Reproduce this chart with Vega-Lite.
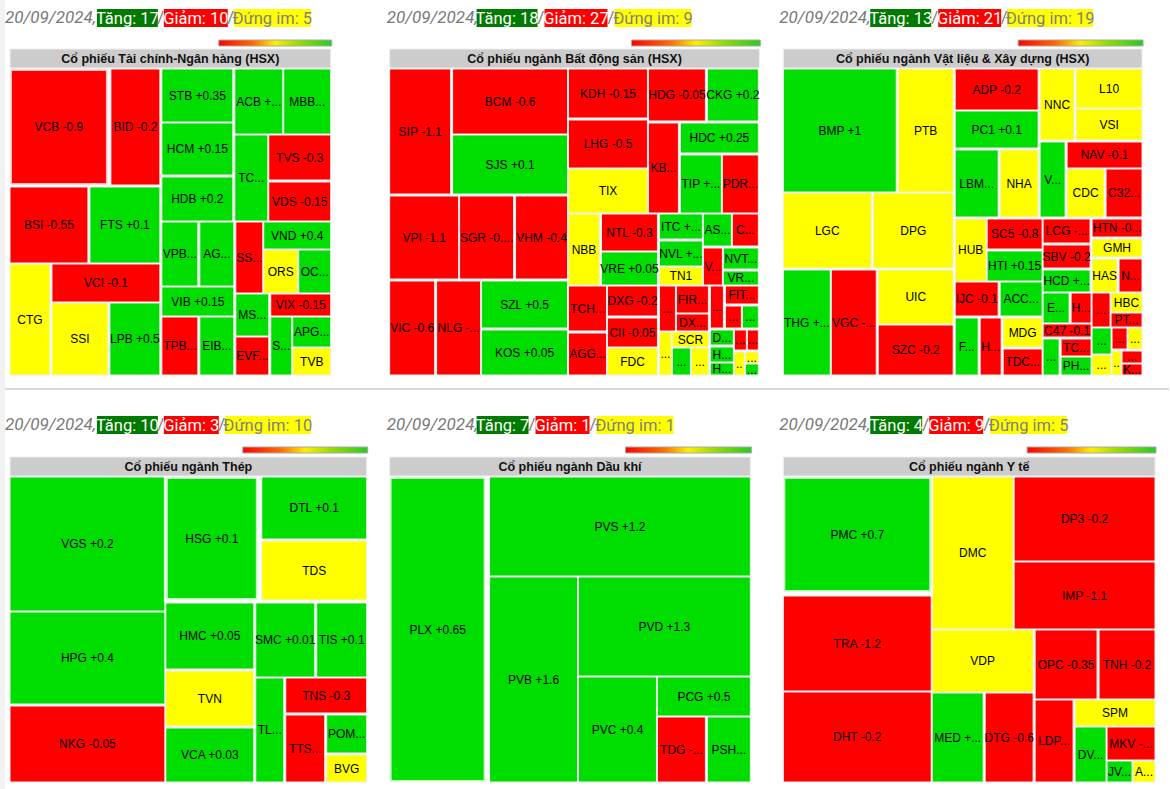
{
  "$schema": "https://vega.github.io/schema/vega-lite/v6.json",
  "width": 1170,
  "height": 789,
  "padding": 0,
  "autosize": {"type": "fit", "contains": "padding"},
  "background": "#ffffff",
  "config": {"view": {"stroke": null}},
  "datasets": {
    "tiles": [
      {"p":1,"t":"VCB -0.9","c":"d","x0":10,"x1":108,"y0":69,"y1":185,"hl":1},
      {"p":1,"t":"BID -0.2","c":"d","x0":111,"x1":160,"y0":69,"y1":185,"hl":0},
      {"p":1,"t":"STB +0.35","c":"u","x0":162,"x1":233,"y0":69,"y1":122,"hl":0},
      {"p":1,"t":"HCM +0.15","c":"u","x0":162,"x1":233,"y0":123,"y1":175,"hl":0},
      {"p":1,"t":"HDB +0.2","c":"u","x0":162,"x1":233,"y0":177,"y1":221,"hl":0},
      {"p":1,"t":"ACB +...","c":"u","x0":235,"x1":283,"y0":69,"y1":134,"hl":0},
      {"p":1,"t":"MBB...","c":"u","x0":284,"x1":331,"y0":69,"y1":134,"hl":0},
      {"p":1,"t":"TC...","c":"u","x0":235,"x1":268,"y0":135,"y1":221,"hl":0},
      {"p":1,"t":"TVS -0.3","c":"d","x0":269,"x1":331,"y0":135,"y1":180,"hl":0},
      {"p":1,"t":"VDS -0.15","c":"d","x0":269,"x1":331,"y0":182,"y1":221,"hl":0},
      {"p":1,"t":"BSI -0.55","c":"d","x0":10,"x1":88,"y0":187,"y1":263,"hl":0},
      {"p":1,"t":"FTS +0.1","c":"u","x0":90,"x1":160,"y0":187,"y1":263,"hl":0},
      {"p":1,"t":"CTG","c":"f","x0":10,"x1":50,"y0":264,"y1":375,"hl":0},
      {"p":1,"t":"VCI -0.1","c":"d","x0":52,"x1":160,"y0":264,"y1":302,"hl":0},
      {"p":1,"t":"SSI","c":"f","x0":52,"x1":108,"y0":303,"y1":375,"hl":0},
      {"p":1,"t":"LPB +0.5","c":"u","x0":110,"x1":160,"y0":303,"y1":375,"hl":0},
      {"p":1,"t":"VPB...","c":"u","x0":162,"x1":198,"y0":222,"y1":286,"hl":0},
      {"p":1,"t":"AG...","c":"u","x0":200,"x1":234,"y0":222,"y1":286,"hl":0},
      {"p":1,"t":"VIB +0.15","c":"u","x0":162,"x1":234,"y0":287,"y1":316,"hl":0},
      {"p":1,"t":"TPB...","c":"d","x0":162,"x1":198,"y0":317,"y1":375,"hl":0},
      {"p":1,"t":"EIB...","c":"u","x0":200,"x1":234,"y0":317,"y1":375,"hl":0},
      {"p":1,"t":"SS...","c":"d","x0":236,"x1":263,"y0":222,"y1":293,"hl":0},
      {"p":1,"t":"VND +0.4","c":"u","x0":264,"x1":331,"y0":222,"y1":249,"hl":0},
      {"p":1,"t":"ORS","c":"f","x0":264,"x1":298,"y0":250,"y1":293,"hl":0},
      {"p":1,"t":"OC...","c":"u","x0":299,"x1":331,"y0":250,"y1":293,"hl":0},
      {"p":1,"t":"MS...","c":"u","x0":236,"x1":269,"y0":294,"y1":336,"hl":0},
      {"p":1,"t":"EVF...","c":"d","x0":236,"x1":269,"y0":337,"y1":375,"hl":0},
      {"p":1,"t":"VIX -0.15","c":"d","x0":271,"x1":331,"y0":294,"y1":316,"hl":0},
      {"p":1,"t":"S...","c":"u","x0":271,"x1":292,"y0":317,"y1":375,"hl":0},
      {"p":1,"t":"APG...","c":"u","x0":293,"x1":331,"y0":317,"y1":347,"hl":0},
      {"p":1,"t":"TVB","c":"f","x0":293,"x1":331,"y0":348,"y1":375,"hl":0},

      {"p":2,"t":"SIP -1.1","c":"d","x0":390,"x1":451,"y0":69,"y1":194,"hl":0},
      {"p":2,"t":"BCM -0.6","c":"d","x0":453,"x1":568,"y0":69,"y1":134,"hl":0},
      {"p":2,"t":"SJS +0.1","c":"u","x0":453,"x1":568,"y0":135,"y1":194,"hl":0},
      {"p":2,"t":"KDH -0.15","c":"d","x0":569,"x1":648,"y0":69,"y1":118,"hl":0},
      {"p":2,"t":"LHG -0.5","c":"d","x0":569,"x1":648,"y0":120,"y1":168,"hl":0},
      {"p":2,"t":"TIX","c":"f","x0":569,"x1":648,"y0":169,"y1":213,"hl":0},
      {"p":2,"t":"HDG -0.05","c":"d","x0":649,"x1":706,"y0":69,"y1":121,"hl":0},
      {"p":2,"t":"CKG +0.2","c":"u","x0":708,"x1":759,"y0":69,"y1":121,"hl":0},
      {"p":2,"t":"KB...","c":"d","x0":649,"x1":679,"y0":123,"y1":213,"hl":0},
      {"p":2,"t":"HDC +0.25","c":"u","x0":681,"x1":759,"y0":123,"y1":153,"hl":0},
      {"p":2,"t":"TIP +...","c":"u","x0":681,"x1":722,"y0":155,"y1":213,"hl":0},
      {"p":2,"t":"PDR...","c":"d","x0":723,"x1":759,"y0":155,"y1":213,"hl":0},
      {"p":2,"t":"VPI -1.1","c":"d","x0":390,"x1":459,"y0":196,"y1":279,"hl":0},
      {"p":2,"t":"SGR -0....","c":"d","x0":460,"x1":514,"y0":196,"y1":279,"hl":0},
      {"p":2,"t":"VHM -0.4","c":"d","x0":516,"x1":568,"y0":196,"y1":279,"hl":0},
      {"p":2,"t":"VIC -0.6","c":"d","x0":390,"x1":435,"y0":281,"y1":375,"hl":0},
      {"p":2,"t":"NLG -...","c":"d","x0":437,"x1":481,"y0":281,"y1":375,"hl":0},
      {"p":2,"t":"SZL +0.5","c":"u","x0":482,"x1":568,"y0":281,"y1":328,"hl":0},
      {"p":2,"t":"KOS +0.05","c":"u","x0":482,"x1":568,"y0":330,"y1":375,"hl":0},
      {"p":2,"t":"NBB","c":"f","x0":569,"x1":600,"y0":214,"y1":285,"hl":0},
      {"p":2,"t":"NTL -0.3","c":"d","x0":602,"x1":658,"y0":214,"y1":251,"hl":0},
      {"p":2,"t":"VRE +0.05","c":"u","x0":602,"x1":658,"y0":252,"y1":285,"hl":0},
      {"p":2,"t":"ITC +...","c":"u","x0":660,"x1":703,"y0":214,"y1":239,"hl":0},
      {"p":2,"t":"NVL +...","c":"u","x0":660,"x1":703,"y0":241,"y1":266,"hl":0},
      {"p":2,"t":"TN1","c":"f","x0":660,"x1":703,"y0":267,"y1":285,"hl":0},
      {"p":2,"t":"AS...","c":"u","x0":704,"x1":732,"y0":214,"y1":246,"hl":0},
      {"p":2,"t":"C...","c":"d","x0":733,"x1":759,"y0":214,"y1":246,"hl":0},
      {"p":2,"t":"V...","c":"d","x0":704,"x1":723,"y0":248,"y1":285,"hl":0},
      {"p":2,"t":"NVT...","c":"u","x0":724,"x1":759,"y0":248,"y1":269,"hl":0},
      {"p":2,"t":"VR...","c":"u","x0":724,"x1":759,"y0":271,"y1":285,"hl":0},
      {"p":2,"t":"TCH...","c":"d","x0":569,"x1":607,"y0":286,"y1":331,"hl":0},
      {"p":2,"t":"AGG...","c":"d","x0":569,"x1":607,"y0":333,"y1":375,"hl":0},
      {"p":2,"t":"DXG -0.2","c":"d","x0":608,"x1":658,"y0":286,"y1":316,"hl":0},
      {"p":2,"t":"CII -0.05","c":"d","x0":608,"x1":658,"y0":318,"y1":347,"hl":0},
      {"p":2,"t":"FDC","c":"f","x0":608,"x1":658,"y0":348,"y1":375,"hl":0},
      {"p":2,"t":"...","c":"d","x0":660,"x1":676,"y0":286,"y1":331,"hl":0},
      {"p":2,"t":"FIR...","c":"d","x0":677,"x1":709,"y0":286,"y1":313,"hl":0},
      {"p":2,"t":"DX...","c":"d","x0":677,"x1":709,"y0":314,"y1":331,"hl":0},
      {"p":2,"t":"...","c":"d","x0":711,"x1":724,"y0":286,"y1":328,"hl":0},
      {"p":2,"t":"FIT...","c":"d","x0":726,"x1":759,"y0":286,"y1":304,"hl":0},
      {"p":2,"t":"...","c":"d","x0":726,"x1":742,"y0":306,"y1":328,"hl":0},
      {"p":2,"t":"...","c":"u","x0":743,"x1":759,"y0":306,"y1":328,"hl":0},
      {"p":2,"t":"...","c":"f","x0":660,"x1":672,"y0":332,"y1":375,"hl":0},
      {"p":2,"t":"SCR","c":"f","x0":673,"x1":709,"y0":332,"y1":347,"hl":0},
      {"p":2,"t":"...","c":"u","x0":673,"x1":691,"y0":348,"y1":375,"hl":0},
      {"p":2,"t":"...","c":"f","x0":692,"x1":709,"y0":348,"y1":375,"hl":0},
      {"p":2,"t":"D...","c":"u","x0":711,"x1":734,"y0":330,"y1":345,"hl":0},
      {"p":2,"t":"H...","c":"u","x0":711,"x1":734,"y0":347,"y1":362,"hl":0},
      {"p":2,"t":"H...","c":"u","x0":711,"x1":734,"y0":363,"y1":375,"hl":0},
      {"p":2,"t":"...","c":"d","x0":735,"x1":747,"y0":330,"y1":350,"hl":0},
      {"p":2,"t":"...","c":"d","x0":748,"x1":759,"y0":330,"y1":350,"hl":0},
      {"p":2,"t":"..","c":"f","x0":735,"x1":745,"y0":352,"y1":375,"hl":0},
      {"p":2,"t":"...","c":"f","x0":746,"x1":759,"y0":352,"y1":363,"hl":0},
      {"p":2,"t":"...","c":"u","x0":746,"x1":759,"y0":364,"y1":375,"hl":0},

      {"p":3,"t":"BMP +1","c":"u","x0":784,"x1":897,"y0":69,"y1":192,"hl":0},
      {"p":3,"t":"PTB","c":"f","x0":899,"x1":954,"y0":69,"y1":192,"hl":0},
      {"p":3,"t":"ADP -0.2","c":"d","x0":956,"x1":1039,"y0":69,"y1":110,"hl":0},
      {"p":3,"t":"PC1 +0.1","c":"u","x0":956,"x1":1039,"y0":111,"y1":148,"hl":0},
      {"p":3,"t":"LBM...","c":"u","x0":956,"x1":999,"y0":150,"y1":217,"hl":0},
      {"p":3,"t":"NHA","c":"f","x0":1001,"x1":1039,"y0":150,"y1":217,"hl":0},
      {"p":3,"t":"NNC","c":"f","x0":1041,"x1":1075,"y0":69,"y1":140,"hl":0},
      {"p":3,"t":"L10","c":"f","x0":1077,"x1":1143,"y0":69,"y1":108,"hl":0},
      {"p":3,"t":"VSI","c":"f","x0":1077,"x1":1143,"y0":109,"y1":140,"hl":0},
      {"p":3,"t":"V...","c":"u","x0":1041,"x1":1066,"y0":142,"y1":217,"hl":0},
      {"p":3,"t":"NAV -0.1","c":"d","x0":1068,"x1":1143,"y0":142,"y1":168,"hl":0},
      {"p":3,"t":"CDC","c":"f","x0":1068,"x1":1105,"y0":169,"y1":217,"hl":0},
      {"p":3,"t":"C32...","c":"d","x0":1107,"x1":1143,"y0":169,"y1":217,"hl":0},
      {"p":3,"t":"LGC","c":"f","x0":784,"x1":872,"y0":193,"y1":268,"hl":0},
      {"p":3,"t":"DPG","c":"f","x0":874,"x1":954,"y0":193,"y1":268,"hl":0},
      {"p":3,"t":"THG +...","c":"u","x0":784,"x1":831,"y0":270,"y1":375,"hl":0},
      {"p":3,"t":"VGC -...","c":"d","x0":832,"x1":877,"y0":270,"y1":375,"hl":0},
      {"p":3,"t":"UIC","c":"f","x0":879,"x1":954,"y0":270,"y1":324,"hl":0},
      {"p":3,"t":"SZC -0.2","c":"d","x0":879,"x1":954,"y0":325,"y1":375,"hl":0},
      {"p":3,"t":"HUB","c":"f","x0":956,"x1":987,"y0":219,"y1":281,"hl":0},
      {"p":3,"t":"SC5 -0.8","c":"d","x0":988,"x1":1043,"y0":219,"y1":249,"hl":0},
      {"p":3,"t":"HTI +0.15","c":"u","x0":988,"x1":1043,"y0":251,"y1":281,"hl":0},
      {"p":3,"t":"LCG -...","c":"d","x0":1044,"x1":1091,"y0":219,"y1":243,"hl":0},
      {"p":3,"t":"SBV -0.2","c":"d","x0":1044,"x1":1091,"y0":245,"y1":268,"hl":0},
      {"p":3,"t":"HCD +...","c":"u","x0":1044,"x1":1091,"y0":270,"y1":292,"hl":0},
      {"p":3,"t":"HTN -0...","c":"d","x0":1093,"x1":1143,"y0":219,"y1":237,"hl":0},
      {"p":3,"t":"GMH","c":"f","x0":1093,"x1":1143,"y0":239,"y1":257,"hl":0},
      {"p":3,"t":"HAS","c":"f","x0":1093,"x1":1118,"y0":259,"y1":292,"hl":0},
      {"p":3,"t":"N...","c":"d","x0":1120,"x1":1143,"y0":259,"y1":292,"hl":0},
      {"p":3,"t":"IJC -0.1","c":"d","x0":956,"x1":999,"y0":282,"y1":316,"hl":0},
      {"p":3,"t":"ACC...","c":"u","x0":1001,"x1":1043,"y0":282,"y1":316,"hl":0},
      {"p":3,"t":"F...","c":"u","x0":956,"x1":979,"y0":318,"y1":375,"hl":0},
      {"p":3,"t":"H...","c":"d","x0":981,"x1":1002,"y0":318,"y1":375,"hl":0},
      {"p":3,"t":"MDG","c":"f","x0":1004,"x1":1043,"y0":318,"y1":347,"hl":0},
      {"p":3,"t":"TDC...","c":"d","x0":1004,"x1":1043,"y0":349,"y1":375,"hl":0},
      {"p":3,"t":"E...","c":"u","x0":1044,"x1":1070,"y0":293,"y1":323,"hl":0},
      {"p":3,"t":"H...","c":"d","x0":1072,"x1":1092,"y0":293,"y1":323,"hl":0},
      {"p":3,"t":"C47 -0.1","c":"d","x0":1044,"x1":1092,"y0":324,"y1":337,"hl":0},
      {"p":3,"t":"...","c":"u","x0":1044,"x1":1060,"y0":339,"y1":375,"hl":0},
      {"p":3,"t":"TC...","c":"d","x0":1062,"x1":1092,"y0":339,"y1":356,"hl":0},
      {"p":3,"t":"PH...","c":"u","x0":1062,"x1":1092,"y0":357,"y1":375,"hl":0},
      {"p":3,"t":"...","c":"d","x0":1093,"x1":1111,"y0":293,"y1":327,"hl":0},
      {"p":3,"t":"HBC","c":"f","x0":1112,"x1":1143,"y0":293,"y1":312,"hl":0},
      {"p":3,"t":"PT...","c":"d","x0":1112,"x1":1143,"y0":313,"y1":327,"hl":0},
      {"p":3,"t":"...","c":"u","x0":1093,"x1":1112,"y0":328,"y1":354,"hl":0},
      {"p":3,"t":"...","c":"d","x0":1113,"x1":1128,"y0":328,"y1":349,"hl":0},
      {"p":3,"t":"...","c":"f","x0":1129,"x1":1143,"y0":328,"y1":349,"hl":0},
      {"p":3,"t":"...","c":"f","x0":1093,"x1":1112,"y0":355,"y1":375,"hl":0},
      {"p":3,"t":"..","c":"f","x0":1113,"x1":1122,"y0":351,"y1":375,"hl":0},
      {"p":3,"t":"...","c":"d","x0":1123,"x1":1143,"y0":351,"y1":363,"hl":0},
      {"p":3,"t":"K...","c":"d","x0":1123,"x1":1143,"y0":364,"y1":375,"hl":0},

      {"p":4,"t":"VGS +0.2","c":"u","x0":10,"x1":165,"y0":477,"y1":611,"hl":0},
      {"p":4,"t":"HPG +0.4","c":"u","x0":10,"x1":165,"y0":612,"y1":704,"hl":0},
      {"p":4,"t":"NKG -0.05","c":"d","x0":10,"x1":165,"y0":706,"y1":782,"hl":0},
      {"p":4,"t":"HSG +0.1","c":"u","x0":166,"x1":258,"y0":477,"y1":600,"hl":1},
      {"p":4,"t":"DTL +0.1","c":"u","x0":262,"x1":367,"y0":477,"y1":539,"hl":0},
      {"p":4,"t":"TDS","c":"f","x0":262,"x1":367,"y0":541,"y1":600,"hl":0},
      {"p":4,"t":"HMC +0.05","c":"u","x0":166,"x1":254,"y0":603,"y1":669,"hl":0},
      {"p":4,"t":"SMC +0.01","c":"u","x0":256,"x1":315,"y0":603,"y1":677,"hl":0},
      {"p":4,"t":"TIS +0.1","c":"u","x0":317,"x1":367,"y0":603,"y1":677,"hl":0},
      {"p":4,"t":"TVN","c":"f","x0":166,"x1":254,"y0":671,"y1":726,"hl":0},
      {"p":4,"t":"VCA +0.03","c":"u","x0":166,"x1":254,"y0":728,"y1":782,"hl":0},
      {"p":4,"t":"TL...","c":"u","x0":256,"x1":284,"y0":678,"y1":782,"hl":0},
      {"p":4,"t":"TNS -0.3","c":"d","x0":286,"x1":367,"y0":678,"y1":713,"hl":0},
      {"p":4,"t":"TTS...","c":"d","x0":286,"x1":325,"y0":715,"y1":782,"hl":0},
      {"p":4,"t":"POM...","c":"u","x0":327,"x1":367,"y0":715,"y1":753,"hl":0},
      {"p":4,"t":"BVG","c":"f","x0":327,"x1":367,"y0":755,"y1":782,"hl":0},

      {"p":5,"t":"PLX +0.65","c":"u","x0":390,"x1":486,"y0":477,"y1":782,"hl":1},
      {"p":5,"t":"PVS +1.2","c":"u","x0":490,"x1":751,"y0":477,"y1":576,"hl":0},
      {"p":5,"t":"PVB +1.6","c":"u","x0":490,"x1":578,"y0":577,"y1":782,"hl":0},
      {"p":5,"t":"PVD +1.3","c":"u","x0":579,"x1":751,"y0":577,"y1":676,"hl":0},
      {"p":5,"t":"PVC +0.4","c":"u","x0":579,"x1":657,"y0":677,"y1":782,"hl":0},
      {"p":5,"t":"PCG +0.5","c":"u","x0":658,"x1":751,"y0":677,"y1":716,"hl":0},
      {"p":5,"t":"TDG -...","c":"d","x0":658,"x1":706,"y0":717,"y1":782,"hl":0},
      {"p":5,"t":"PSH...","c":"u","x0":708,"x1":751,"y0":717,"y1":782,"hl":0},

      {"p":6,"t":"PMC +0.7","c":"u","x0":784,"x1":932,"y0":477,"y1":592,"hl":1},
      {"p":6,"t":"TRA -1.2","c":"d","x0":784,"x1":932,"y0":596,"y1":691,"hl":0},
      {"p":6,"t":"DHT -0.2","c":"d","x0":784,"x1":932,"y0":692,"y1":782,"hl":0},
      {"p":6,"t":"DMC","c":"f","x0":933,"x1":1014,"y0":477,"y1":629,"hl":0},
      {"p":6,"t":"DP3 -0.2","c":"d","x0":1015,"x1":1156,"y0":477,"y1":561,"hl":0},
      {"p":6,"t":"IMP -1.1","c":"d","x0":1015,"x1":1156,"y0":562,"y1":629,"hl":0},
      {"p":6,"t":"VDP","c":"f","x0":933,"x1":1034,"y0":630,"y1":692,"hl":0},
      {"p":6,"t":"OPC -0.35","c":"d","x0":1036,"x1":1098,"y0":630,"y1":699,"hl":0},
      {"p":6,"t":"TNH -0.2","c":"d","x0":1100,"x1":1156,"y0":630,"y1":699,"hl":0},
      {"p":6,"t":"MED +...","c":"u","x0":933,"x1":984,"y0":693,"y1":782,"hl":0},
      {"p":6,"t":"DTG -0.6","c":"d","x0":986,"x1":1034,"y0":693,"y1":782,"hl":0},
      {"p":6,"t":"LDP...","c":"d","x0":1036,"x1":1074,"y0":700,"y1":782,"hl":0},
      {"p":6,"t":"SPM","c":"f","x0":1076,"x1":1156,"y0":700,"y1":726,"hl":0},
      {"p":6,"t":"DV...","c":"u","x0":1076,"x1":1107,"y0":727,"y1":782,"hl":0},
      {"p":6,"t":"MKV -...","c":"d","x0":1108,"x1":1156,"y0":727,"y1":760,"hl":0},
      {"p":6,"t":"JV...","c":"u","x0":1108,"x1":1133,"y0":761,"y1":782,"hl":0},
      {"p":6,"t":"A...","c":"f","x0":1134,"x1":1156,"y0":761,"y1":782,"hl":0}
    ],
    "bars": [
      {"p":1,"t":"Cổ phiếu Tài chính-Ngân hàng (HSX)","x0":10,"x1":331,"y0":49,"y1":68},
      {"p":2,"t":"Cổ phiếu ngành Bất động sản (HSX)","x0":390,"x1":760,"y0":49,"y1":68},
      {"p":3,"t":"Cổ phiếu ngành Vật liệu & Xây dựng (HSX)","x0":784,"x1":1143,"y0":49,"y1":68},
      {"p":4,"t":"Cổ phiếu ngành Thép","x0":10,"x1":367,"y0":457,"y1":476},
      {"p":5,"t":"Cổ phiếu ngành Dầu khí","x0":390,"x1":751,"y0":457,"y1":476},
      {"p":6,"t":"Cổ phiếu ngành Y tế","x0":784,"x1":1156,"y0":457,"y1":476}
    ],
    "legends": [
      {"p":1,"x0":219,"x1":332,"y0":40,"y1":46},
      {"p":2,"x0":632,"x1":761,"y0":40,"y1":46},
      {"p":3,"x0":1019,"x1":1144,"y0":40,"y1":46},
      {"p":4,"x0":243,"x1":368,"y0":447,"y1":453},
      {"p":5,"x0":626,"x1":752,"y0":447,"y1":453},
      {"p":6,"x0":1028,"x1":1157,"y0":447,"y1":453}
    ],
    "badges": [
      {"p":1,"t":"Tăng: 17","k":"g","x0":97,"x1":158,"y0":9,"y1":27},
      {"p":1,"t":"Giảm: 10","k":"d","x0":164,"x1":228,"y0":9,"y1":27},
      {"p":1,"t":"Đứng im: 5","k":"f","x0":234,"x1":311,"y0":9,"y1":27},
      {"p":2,"t":"Tăng: 18","k":"g","x0":477,"x1":538,"y0":9,"y1":27},
      {"p":2,"t":"Giảm: 27","k":"d","x0":545,"x1":608,"y0":9,"y1":27},
      {"p":2,"t":"Đứng im: 9","k":"f","x0":615,"x1":692,"y0":9,"y1":27},
      {"p":3,"t":"Tăng: 13","k":"g","x0":871,"x1":932,"y0":9,"y1":27},
      {"p":3,"t":"Giảm: 21","k":"d","x0":939,"x1":1002,"y0":9,"y1":27},
      {"p":3,"t":"Đứng im: 19","k":"f","x0":1008,"x1":1094,"y0":9,"y1":27},
      {"p":4,"t":"Tăng: 10","k":"g","x0":97,"x1":158,"y0":416,"y1":434},
      {"p":4,"t":"Giảm: 3","k":"d","x0":164,"x1":219,"y0":416,"y1":434},
      {"p":4,"t":"Đứng im: 10","k":"f","x0":225,"x1":311,"y0":416,"y1":434},
      {"p":5,"t":"Tăng: 7","k":"g","x0":477,"x1":529,"y0":416,"y1":434},
      {"p":5,"t":"Giảm: 1","k":"d","x0":536,"x1":590,"y0":416,"y1":434},
      {"p":5,"t":"Đứng im: 1","k":"f","x0":597,"x1":674,"y0":416,"y1":434},
      {"p":6,"t":"Tăng: 4","k":"g","x0":871,"x1":923,"y0":416,"y1":434},
      {"p":6,"t":"Giảm: 9","k":"d","x0":930,"x1":984,"y0":416,"y1":434},
      {"p":6,"t":"Đứng im: 5","k":"f","x0":991,"x1":1068,"y0":416,"y1":434}
    ],
    "dates": [
      {"p":1,"t":"20/09/2024,","x":5,"y":18},
      {"p":2,"t":"20/09/2024,","x":387,"y":18},
      {"p":3,"t":"20/09/2024,","x":780,"y":18},
      {"p":4,"t":"20/09/2024,","x":5,"y":425},
      {"p":5,"t":"20/09/2024,","x":387,"y":425},
      {"p":6,"t":"20/09/2024,","x":780,"y":425}
    ],
    "slashes": [
      {"x":161,"y":18},{"x":231,"y":18},
      {"x":541.5,"y":18},{"x":611.5,"y":18},
      {"x":935.5,"y":18},{"x":1005,"y":18},
      {"x":161,"y":425},{"x":222,"y":425},
      {"x":532.5,"y":425},{"x":593.5,"y":425},
      {"x":926.5,"y":425},{"x":987.5,"y":425}
    ],
    "frame": [
      {"x0":0,"x1":5,"y0":0,"y1":789}
    ],
    "divider": [
      {"x0":5,"x1":1170,"y":389}
    ]
  },
  "layer": [
    {
      "data": {"name": "frame"},
      "mark": {"type": "rect", "fill": "#f2f2f2"},
      "encoding": {
        "x": {"field": "x0", "type": "quantitative", "scale": {"domain": [0, 1170], "nice": false, "zero": false}, "axis": null},
        "x2": {"field": "x1"},
        "y": {"field": "y0", "type": "quantitative", "scale": {"domain": [0, 789], "reverse": true, "nice": false, "zero": false}, "axis": null},
        "y2": {"field": "y1"}
      }
    },
    {
      "data": {"name": "divider"},
      "mark": {"type": "rule", "stroke": "#cccccc", "strokeWidth": 1.5},
      "encoding": {
        "x": {"field": "x0", "type": "quantitative", "scale": {"domain": [0, 1170], "nice": false, "zero": false}, "axis": null},
        "x2": {"field": "x1"},
        "y": {"field": "y", "type": "quantitative", "scale": {"domain": [0, 789], "reverse": true, "nice": false, "zero": false}, "axis": null}
      }
    },
    {
      "data": {"name": "tiles"},
      "mark": {"type": "rect", "stroke": "#eeeeee", "strokeWidth": 1},
      "encoding": {
        "x": {"field": "x0", "type": "quantitative", "scale": {"domain": [0, 1170], "nice": false, "zero": false}, "axis": null},
        "x2": {"field": "x1"},
        "y": {"field": "y0", "type": "quantitative", "scale": {"domain": [0, 789], "reverse": true, "nice": false, "zero": false}, "axis": null},
        "y2": {"field": "y1"},
        "color": {"field": "c", "type": "nominal", "scale": {"domain": ["u", "d", "f", "g"], "range": ["#00dd00", "#ff0000", "#ffff00", "#007a00"]}, "legend": null}
      }
    },
    {
      "data": {"name": "tiles"},
      "transform": [{"filter": "datum.hl == 1"}],
      "mark": {"type": "rect", "fillOpacity": 0, "stroke": "#ffffff", "strokeWidth": 4, "strokeOpacity": 0.75},
      "encoding": {
        "x": {"field": "x0", "type": "quantitative", "scale": {"domain": [0, 1170], "nice": false, "zero": false}, "axis": null},
        "x2": {"field": "x1"},
        "y": {"field": "y0", "type": "quantitative", "scale": {"domain": [0, 789], "reverse": true, "nice": false, "zero": false}, "axis": null},
        "y2": {"field": "y1"}
      }
    },
    {
      "data": {"name": "tiles"},
      "transform": [
        {"calculate": "(datum.x0 + datum.x1) / 2", "as": "cx"},
        {"calculate": "(datum.y0 + datum.y1) / 2", "as": "cy"}
      ],
      "mark": {"type": "text", "font": "Liberation Sans", "fontSize": 12, "color": "#000000", "align": "center", "baseline": "middle"},
      "encoding": {
        "x": {"field": "cx", "type": "quantitative", "scale": {"domain": [0, 1170], "nice": false, "zero": false}, "axis": null},
        "y": {"field": "cy", "type": "quantitative", "scale": {"domain": [0, 789], "reverse": true, "nice": false, "zero": false}, "axis": null},
        "text": {"field": "t"}
      }
    },
    {
      "data": {"name": "bars"},
      "mark": {"type": "rect", "fill": "#cccccc", "stroke": "#eeeeee", "strokeWidth": 1},
      "encoding": {
        "x": {"field": "x0", "type": "quantitative", "scale": {"domain": [0, 1170], "nice": false, "zero": false}, "axis": null},
        "x2": {"field": "x1"},
        "y": {"field": "y0", "type": "quantitative", "scale": {"domain": [0, 789], "reverse": true, "nice": false, "zero": false}, "axis": null},
        "y2": {"field": "y1"}
      }
    },
    {
      "data": {"name": "bars"},
      "transform": [
        {"calculate": "(datum.x0 + datum.x1) / 2", "as": "cx"},
        {"calculate": "(datum.y0 + datum.y1) / 2", "as": "cy"}
      ],
      "mark": {"type": "text", "font": "Liberation Sans", "fontSize": 12.5, "fontWeight": "bold", "color": "#111111", "align": "center", "baseline": "middle"},
      "encoding": {
        "x": {"field": "cx", "type": "quantitative", "scale": {"domain": [0, 1170], "nice": false, "zero": false}, "axis": null},
        "y": {"field": "cy", "type": "quantitative", "scale": {"domain": [0, 789], "reverse": true, "nice": false, "zero": false}, "axis": null},
        "text": {"field": "t"}
      }
    },
    {
      "data": {"name": "legends"},
      "mark": {
        "type": "rect",
        "stroke": "#a8a8a8",
        "strokeWidth": 1,
        "fill": {
          "gradient": "linear", "x1": 0, "y1": 0, "x2": 1, "y2": 0,
          "stops": [
            {"offset": 0, "color": "#ff0000"},
            {"offset": 0.3, "color": "#ff6a00"},
            {"offset": 0.5, "color": "#ffee00"},
            {"offset": 0.7, "color": "#99dd00"},
            {"offset": 1, "color": "#22cc22"}
          ]
        }
      },
      "encoding": {
        "x": {"field": "x0", "type": "quantitative", "scale": {"domain": [0, 1170], "nice": false, "zero": false}, "axis": null},
        "x2": {"field": "x1"},
        "y": {"field": "y0", "type": "quantitative", "scale": {"domain": [0, 789], "reverse": true, "nice": false, "zero": false}, "axis": null},
        "y2": {"field": "y1"}
      }
    },
    {
      "data": {"name": "badges"},
      "mark": {"type": "rect"},
      "encoding": {
        "x": {"field": "x0", "type": "quantitative", "scale": {"domain": [0, 1170], "nice": false, "zero": false}, "axis": null},
        "x2": {"field": "x1"},
        "y": {"field": "y0", "type": "quantitative", "scale": {"domain": [0, 789], "reverse": true, "nice": false, "zero": false}, "axis": null},
        "y2": {"field": "y1"},
        "color": {"field": "k", "type": "nominal", "scale": {"domain": ["u", "d", "f", "g"], "range": ["#00dd00", "#ff0000", "#ffff00", "#007a00"]}, "legend": null}
      }
    },
    {
      "data": {"name": "badges"},
      "transform": [
        {"calculate": "(datum.x0 + datum.x1) / 2", "as": "cx"},
        {"calculate": "(datum.y0 + datum.y1) / 2 + 1", "as": "cy"}
      ],
      "mark": {"type": "text", "font": "Roboto", "fontSize": 16.5, "align": "center", "baseline": "middle"},
      "encoding": {
        "x": {"field": "cx", "type": "quantitative", "scale": {"domain": [0, 1170], "nice": false, "zero": false}, "axis": null},
        "y": {"field": "cy", "type": "quantitative", "scale": {"domain": [0, 789], "reverse": true, "nice": false, "zero": false}, "axis": null},
        "text": {"field": "t"},
        "fill": {"condition": {"test": "datum.k == 'f'", "value": "#808080"}, "value": "#ffffff"}
      }
    },
    {
      "data": {"name": "dates"},
      "mark": {"type": "text", "font": "Roboto", "fontSize": 17, "fontStyle": "italic", "color": "#7a7a7a", "align": "left", "baseline": "middle"},
      "encoding": {
        "x": {"field": "x", "type": "quantitative", "scale": {"domain": [0, 1170], "nice": false, "zero": false}, "axis": null},
        "y": {"field": "y", "type": "quantitative", "scale": {"domain": [0, 789], "reverse": true, "nice": false, "zero": false}, "axis": null},
        "text": {"field": "t"}
      }
    },
    {
      "data": {"name": "slashes"},
      "mark": {"type": "text", "font": "Roboto", "fontSize": 17, "color": "#808080", "align": "center", "baseline": "middle", "text": "/"},
      "encoding": {
        "x": {"field": "x", "type": "quantitative", "scale": {"domain": [0, 1170], "nice": false, "zero": false}, "axis": null},
        "y": {"field": "y", "type": "quantitative", "scale": {"domain": [0, 789], "reverse": true, "nice": false, "zero": false}, "axis": null}
      }
    }
  ]
}
